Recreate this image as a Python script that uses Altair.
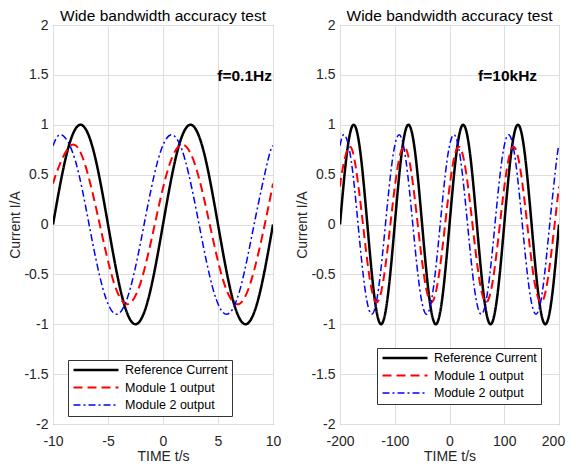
import altair as alt
import pandas as pd

FONT = "Liberation Sans"
SERIES = ["Reference Current", "Module 1 output", "Module 2 output"]

# ---- left panel (f = 0.1 Hz) ----
ref_l_t = [-10, -8.75, -7.5, -6.25, -5, -3.75, -2.5, -1.25, 0, 1.25, 2.5, 3.75, 5, 6.25, 7.5, 8.75, 10]
ref_l_i = [0, 0.71, 1, 0.71, 0, -0.71, -1, -0.71, 0, 0.71, 1, 0.71, 0, -0.71, -1, -0.71, 0]
m1_l_t = [-10, -9.5, -8.25, -7.0, -5.75, -4.5, -3.25, -2.0, -0.75, 0.5, 1.75, 3.0, 4.25, 5.5, 6.75, 8.0, 9.25, 10]
m1_l_i = [0.41, 0.57, 0.8, 0.57, 0, -0.57, -0.8, -0.57, 0, 0.57, 0.8, 0.57, 0, -0.57, -0.8, -0.57, 0, 0.41]
m2_l_t = [-10, -9.22, -7.97, -6.72, -5.47, -4.22, -2.97, -1.72, -0.47, 0.78, 2.03, 3.28, 4.53, 5.78, 7.03, 8.28, 9.53, 10]
m2_l_i = [0.79, 0.9, 0.64, 0, -0.64, -0.9, -0.64, 0, 0.64, 0.9, 0.64, 0, -0.64, -0.9, -0.64, 0, 0.64, 0.79]

# ---- right panel (f = 10 kHz) ----
ref_r_t = [-200, -187.5, -175, -162.5, -150, -137.5, -125, -112.5, -100, -87.5, -75, -62.5, -50, -37.5,
           -25, -12.5, 0, 12.5, 25, 37.5, 50, 62.5, 75, 87.5, 100, 112.5, 125, 137.5, 150, 162.5, 175, 187.5, 200]
ref_r_i = [0, 0.71, 1, 0.71, 0, -0.71, -1, -0.71, 0, 0.71, 1, 0.71, 0, -0.71, -1, -0.71, 0,
           0.71, 1, 0.71, 0, -0.71, -1, -0.71, 0, 0.71, 1, 0.71, 0, -0.71, -1, -0.71, 0]
m1_r_t = [-200, -195.5, -183, -170.5, -158, -145.5, -133, -120.5, -108, -95.5, -83, -70.5, -58, -45.5, -33,
          -20.5, -8, 4.5, 17, 29.5, 42, 54.5, 67, 79.5, 92, 104.5, 117, 129.5, 142, 154.5, 167, 179.5, 192, 200]
m1_r_i = [0.38, 0.55, 0.78, 0.55, 0, -0.55, -0.78, -0.55, 0, 0.55, 0.78, 0.55, 0, -0.55, -0.78, -0.55, 0,
          0.55, 0.78, 0.55, 0, -0.55, -0.78, -0.55, 0, 0.55, 0.78, 0.55, 0, -0.55, -0.78, -0.55, 0, 0.38]
m2_r_t = [-200, -192, -179.5, -167, -154.5, -142, -129.5, -117, -104.5, -92, -79.5, -67, -54.5, -42, -29.5,
          -17, -4.5, 8, 20.5, 33, 45.5, 58, 70.5, 83, 95.5, 108, 120.5, 133, 145.5, 158, 170.5, 183, 195.5, 200]
m2_r_i = [0.79, 0.9, 0.64, 0, -0.64, -0.9, -0.64, 0, 0.64, 0.9, 0.64, 0, -0.64, -0.9, -0.64, 0, 0.64,
          0.9, 0.64, 0, -0.64, -0.9, -0.64, 0, 0.64, 0.9, 0.64, 0, -0.64, -0.9, -0.64, 0, 0.64, 0.79]

y_ticks = [-2, -1.5, -1, -0.5, 0, 0.5, 1, 1.5, 2]
x_ticks_l = [-10, -5, 0, 5, 10]
x_ticks_r = [-200, -100, 0, 100, 200]

note_l = {"t": [10], "current": [1.5], "label": ["f=0.1Hz"]}
note_r = {"t": [160], "current": [1.5], "label": ["f=10kHz"]}


def long_df(pairs):
    rows = []
    for name, ts, vs in pairs:
        for t, v in zip(ts, vs):
            rows.append({"t": t, "current": v, "series": name})
    return pd.DataFrame(rows)


df_l = long_df([(SERIES[0], ref_l_t, ref_l_i), (SERIES[1], m1_l_t, m1_l_i), (SERIES[2], m2_l_t, m2_l_i)])
df_r = long_df([(SERIES[0], ref_r_t, ref_r_i), (SERIES[1], m1_r_t, m1_r_i), (SERIES[2], m2_r_t, m2_r_i)])

LABEL_EXPR = "'' + datum.value"
PLOT_H = 399


def panel(df, note, xdom, xticks, lx, ly, w, ndx, last_shift):
    legend = alt.Legend(
        title=None, orient="none", legendX=lx, legendY=ly,
        symbolType="stroke", symbolSize=2025, clipHeight=12, rowPadding=4.5,
        padding=4, fillColor="white", strokeColor="#333333",
        labelFontSize=12.5, labelFont=FONT, labelColor="black", labelOffset=5,
    )
    xaxis_kw = dict(values=xticks, title="TIME t/s", labelExpr=LABEL_EXPR, labelFlush=False)
    if last_shift:
        xaxis_kw["labelOffset"] = {"condition": {"test": f"datum.value == {xticks[-1]}", "value": last_shift},
                                   "value": 0}
    x = alt.X("t:Q", scale=alt.Scale(domain=xdom, nice=False, zero=False), axis=alt.Axis(**xaxis_kw))
    y = alt.Y("current:Q", scale=alt.Scale(domain=[-2, 2], nice=False),
              axis=alt.Axis(values=y_ticks, title="Current I/A", labelExpr=LABEL_EXPR, labelFlush=False))
    lines = alt.Chart(df).mark_line(interpolate="natural", clip=True).encode(
        x=x, y=y,
        color=alt.Color("series:N", sort=SERIES,
                        scale=alt.Scale(domain=SERIES, range=["#000000", "#ff0000", "#0000ff"]),
                        legend=legend),
        strokeDash=alt.StrokeDash("series:N", sort=SERIES,
                                  scale=alt.Scale(domain=SERIES, range=[[1, 0], [9, 5], [7, 3, 2, 3]]),
                                  legend=legend),
        strokeWidth=alt.StrokeWidth("series:N", sort=SERIES,
                                    scale=alt.Scale(domain=SERIES, range=[2.5, 1.5, 1.5]),
                                    legend=legend),
    )
    text = alt.Chart(pd.DataFrame(note)).mark_text(
        align="right", baseline="middle", font=FONT, fontWeight="bold", fontSize=15.5, color="black",
        dy=1, dx=ndx
    ).encode(x="t:Q", y="current:Q", text="label:N")
    return alt.layer(lines, text).properties(
        width=w, height=PLOT_H,
        title=alt.Title("Wide bandwidth accuracy test", fontSize=15.5, font=FONT, fontWeight="normal",
                        color="black", anchor="middle", offset=-6),
    )


left = panel(df_l, note_l, [-10, 10], x_ticks_l, 15, 335, 220, -1, 0)
right = panel(df_r, note_r, [-200, 200], x_ticks_r, 37, 323, 219, 0, -6)

chart = alt.hconcat(left, right, spacing=13).resolve_scale(
    x="independent", color="independent", strokeDash="independent", strokeWidth="independent"
).resolve_legend(
    color="independent", strokeDash="independent", strokeWidth="independent"
).configure_view(
    stroke="#777777", strokeWidth=1
).configure_axis(
    domain=False, ticks=False, grid=True, gridColor="#dedede", gridWidth=1,
    labelFont=FONT, labelFontSize=14, labelColor="#262626",
    titleFont=FONT, titleFontSize=14, titleFontWeight="normal", titleColor="#262626",
).configure_axisX(
    labelPadding=10, titlePadding=1,
).configure_axisY(
    labelPadding=5, titlePadding=1,
).properties(
    padding={"left": 0, "top": 0, "right": 0, "bottom": 0},
    background="white",
)

chart.save("out.html", embed_options={"renderer": "svg", "actions": False})
